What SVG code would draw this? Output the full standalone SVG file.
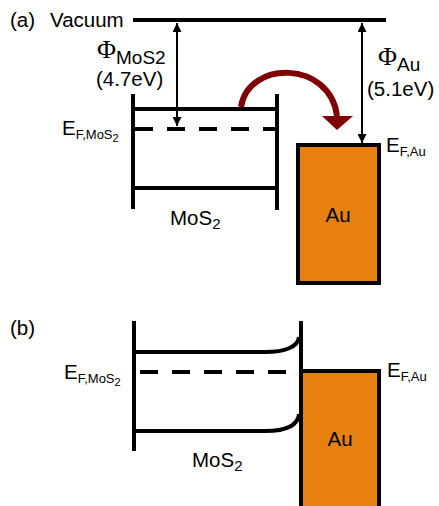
<svg xmlns="http://www.w3.org/2000/svg" width="439" height="506" viewBox="0 0 439 506">
<defs>
<marker id="ah" viewBox="0 0 10 10" refX="10" refY="5" markerWidth="4.5" markerHeight="4.5" orient="auto-start-reverse" markerUnits="strokeWidth">
<path d="M0,0 L10,5 L0,10 z" fill="#000"/>
</marker>
</defs>
<style>
text{font-family:"Liberation Sans",Arial,sans-serif;fill:#000}
.lbl{font-size:20.5px}
.sub{font-size:13px}
.sub2{font-size:11px}
.msub{font-size:15px}
.phisub{font-size:19px}
.phi{font-family:"Liberation Serif","Times New Roman",serif;font-size:26px}
.band{stroke:#000;stroke-width:4;fill:none}
.dash{stroke:#000;stroke-width:4;fill:none;stroke-dasharray:18 14}
.arr{stroke:#000;stroke-width:2;fill:none;marker-start:url(#ah);marker-end:url(#ah)}
.au{fill:#E8800F;stroke:#000;stroke-width:4}
</style>
<g id="panel-a">
<text class="lbl" x="10" y="27">(a)</text>
<g id="vacuum">
<text class="lbl" x="50" y="27">Vacuum</text>
<line class="band" x1="133" y1="20" x2="386" y2="20"/>
</g>
<g id="mos2-a">
<line class="band" x1="133" y1="94" x2="133" y2="209"/>
<line class="band" x1="277" y1="94" x2="277" y2="210"/>
<line class="band" x1="133" y1="109" x2="277" y2="109"/>
<line class="dash" x1="135" y1="129" x2="277" y2="129"/>
<line class="band" x1="133" y1="188" x2="277" y2="188"/>
<text class="lbl" x="170" y="225">MoS<tspan class="msub" dy="4">2</tspan></text>
<text class="lbl" x="62" y="135">E<tspan class="sub" dy="4">F,MoS</tspan><tspan class="sub2" dy="3">2</tspan></text>
</g>
<g id="au-a">
<rect class="au" x="298" y="145" width="81" height="138"/>
<text class="lbl" x="338" y="222" text-anchor="middle">Au</text>
<text class="lbl" x="386" y="152">E<tspan class="sub" dy="4">F,Au</tspan></text>
</g>
<g id="phi-labels">
<text x="97" y="58"><tspan class="phi">Φ</tspan><tspan class="phisub" dy="6">MoS2</tspan></text>
<text class="lbl" x="96" y="86">(4.7eV)</text>
<text x="378" y="65"><tspan class="phi">Φ</tspan><tspan class="phisub" dy="6">Au</tspan></text>
<text class="lbl" x="367" y="96">(5.1eV)</text>
</g>
</g>
<g id="connectors">
<line class="arr" x1="177" y1="23" x2="177" y2="126"/>
<line class="arr" x1="362" y1="23" x2="362" y2="143"/>
<path d="M241,107 C248,60 330,60 337,116" fill="none" stroke="#7F0000" stroke-width="6"/>
<path d="M322,116 L353,116 L337,130 z" fill="#7F0000"/>
</g>
<g id="panel-b">
<text class="lbl" x="10" y="335">(b)</text>
<g id="mos2-b">
<line class="band" x1="134" y1="321" x2="134" y2="451"/>
<line class="band" x1="301" y1="321" x2="301" y2="452"/>
<path class="band" d="M134,352 L265,352 C285,352 298,347 299,337"/>
<line class="dash" x1="140" y1="372" x2="290" y2="372"/>
<path class="band" d="M134,431 L265,431 C285,431 298,426 299,414"/>
<text class="lbl" x="192" y="467">MoS<tspan class="msub" dy="4">2</tspan></text>
<text class="lbl" x="64" y="379">E<tspan class="sub" dy="4">F,MoS</tspan><tspan class="sub2" dy="3">2</tspan></text>
</g>
<g id="au-b">
<rect class="au" x="301" y="371" width="78" height="140"/>
<text class="lbl" x="340" y="446" text-anchor="middle">Au</text>
<text class="lbl" x="387" y="377">E<tspan class="sub" dy="4">F,Au</tspan></text>
</g>
</g>
</svg>
